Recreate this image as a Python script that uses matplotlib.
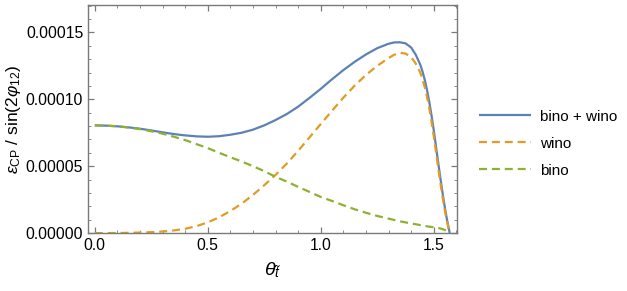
import matplotlib
matplotlib.use("Agg")
import matplotlib.pyplot as plt
from matplotlib.ticker import MultipleLocator, FixedLocator, FixedFormatter

plt.rcParams['font.family'] = ['Liberation Sans', 'DejaVu Sans']
plt.rcParams['mathtext.fontset'] = 'custom'
plt.rcParams['mathtext.rm'] = 'Liberation Sans'
plt.rcParams['mathtext.it'] = 'Liberation Sans:italic'
plt.rcParams['mathtext.bf'] = 'Liberation Sans:bold'

# theta values
theta = [0.0, 0.05, 0.1, 0.15, 0.2, 0.25, 0.3, 0.35, 0.4, 0.45, 0.5, 0.55, 0.6, 0.65,
         0.7, 0.75, 0.8, 0.85, 0.9, 0.95, 1.0, 1.05, 1.1, 1.15, 1.2, 1.25, 1.3, 1.325,
         1.35, 1.375, 1.4, 1.42, 1.44, 1.45, 1.46, 1.47, 1.48, 1.49, 1.5, 1.51, 1.52,
         1.53, 1.54, 1.55, 1.56, 1.5708]

# values in units of 1e-5
bino = [8.05, 8.03, 7.98, 7.89, 7.77, 7.61, 7.43, 7.20, 6.95, 6.65, 6.35, 6.00, 5.67, 5.35,
        5.00, 4.63, 4.20, 3.85, 3.45, 3.08, 2.70, 2.40, 2.08, 1.78, 1.52, 1.28, 1.08, 0.98,
        0.88, 0.80, 0.72, 0.66, 0.60, 0.57, 0.54, 0.51, 0.48, 0.46, 0.44, 0.41, 0.38,
        0.34, 0.29, 0.22, 0.13, 0.0]

wino = [0.0, 0.0, 0.005, 0.02, 0.04, 0.07, 0.12, 0.20, 0.32, 0.52, 0.80, 1.18, 1.65, 2.20,
        2.85, 3.58, 4.35, 5.20, 6.15, 7.15, 8.15, 9.15, 10.12, 11.02, 11.82, 12.50, 13.08, 13.33,
        13.47, 13.42, 13.15, 12.68, 12.00, 11.52, 10.93, 10.20, 9.35, 8.35, 7.25, 6.05, 4.85,
        3.70, 2.60, 1.60, 0.75, 0.0]

bino_wino = [8.05, 8.03, 7.98, 7.90, 7.80, 7.67, 7.53, 7.40, 7.30, 7.23, 7.20, 7.24, 7.35, 7.50,
             7.73, 8.05, 8.45, 8.90, 9.45, 10.10, 10.78, 11.50, 12.18, 12.80, 13.35, 13.82, 14.15, 14.25,
             14.26, 14.18, 13.87, 13.34, 12.60, 12.09, 11.47, 10.71, 9.83, 8.81, 7.69, 6.46, 5.23,
             4.04, 2.89, 1.82, 0.88, 0.0]

scale = 1e-5
labels = ["bino + wino", "wino", "bino"]
colors = ["#5E81B5", "#E19C24", "#8FB032"]

fig = plt.figure(figsize=(6.27, 2.91), dpi=100)
ax = fig.add_axes([0.1404, 0.199, 0.5885, 0.784])

ax.plot(theta, [v * scale for v in bino_wino], color=colors[0], lw=1.6, label=labels[0],
        solid_capstyle='butt', solid_joinstyle='round')
ax.plot(theta, [v * scale for v in wino], color=colors[1], lw=1.6, label=labels[1],
        dashes=(3.6, 2.2))
ax.plot(theta, [v * scale for v in bino], color=colors[2], lw=1.6, label=labels[2],
        dashes=(3.6, 2.2))

ax.set_xlim(-0.03, 1.603)
ax.set_ylim(0, 0.0001705)

ax.xaxis.set_major_locator(FixedLocator([0.0, 0.5, 1.0, 1.5]))
ax.xaxis.set_major_formatter(FixedFormatter(["0.0", "0.5", "1.0", "1.5"]))
ax.xaxis.set_minor_locator(MultipleLocator(0.1))
ax.yaxis.set_major_locator(FixedLocator([0, 5e-5, 1e-4, 1.5e-4]))
ax.yaxis.set_major_formatter(FixedFormatter(["0.00000", "0.00005", "0.00010", "0.00015"]))
ax.yaxis.set_minor_locator(MultipleLocator(1e-5))

frame_col = "#7a7a7a"
for s in ax.spines.values():
    s.set_color(frame_col)
    s.set_linewidth(1.0)
ax.tick_params(which='both', direction='in', top=True, right=True, color=frame_col,
               labelsize=11.3, labelcolor='black')
ax.tick_params(which='major', length=4.5, width=0.9, pad=3.5)
ax.tick_params(which='minor', length=2.5, width=0.6)

ax.set_xlabel(r'$\theta_{\tilde{t}}$', fontsize=14, labelpad=5)
ax.set_ylabel(r'$\epsilon_{\mathrm{CP}}$ / sin(2$\varphi_{12}$)', fontsize=12.5, labelpad=2)

leg = fig.legend(loc='upper left', bbox_to_anchor=(0.742, 0.67), frameon=False,
                 fontsize=11, handlelength=3.4, labelspacing=0.85, handletextpad=0.6)

fig.savefig("out.png", dpi=100)
